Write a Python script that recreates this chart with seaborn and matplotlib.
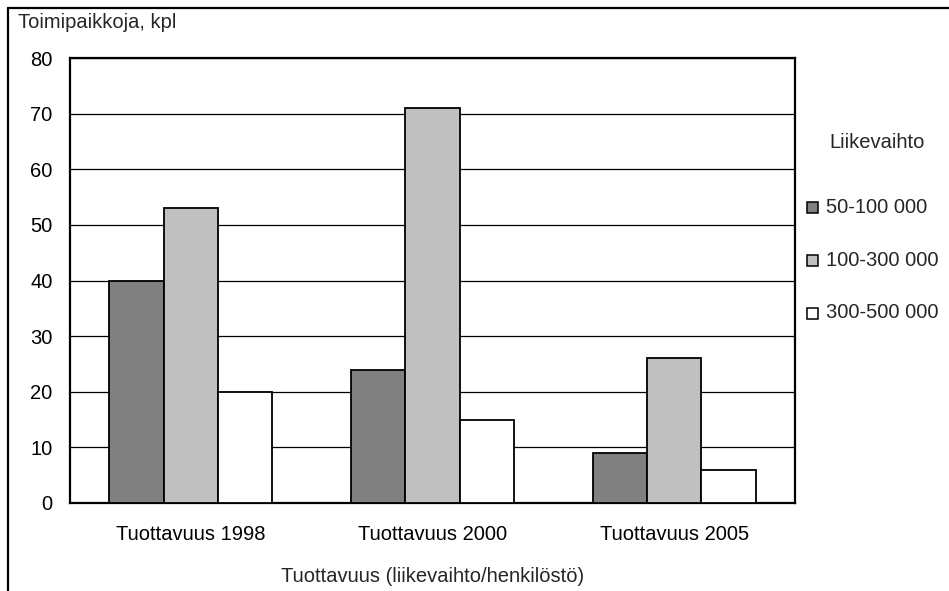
import matplotlib
matplotlib.use("Agg")
import matplotlib.pyplot as plt
import seaborn as sns
import pandas as pd
from matplotlib.patches import Rectangle
from matplotlib.lines import Line2D

categories = ["Tuottavuus 1998", "Tuottavuus 2000", "Tuottavuus 2005"]
series_names = ["50-100 000", "100-300 000", "300-500 000"]
s1 = [40, 24, 9]
s2 = [53, 71, 26]
s3 = [20, 15, 6]
colors = ["#808080", "#c0c0c0", "#ffffff"]

rows = []
for name, vals in zip(series_names, [s1, s2, s3]):
    for c, v in zip(categories, vals):
        rows.append({"cat": c, "series": name, "val": v})
df = pd.DataFrame(rows)

sns.set_theme(style="white")
plt.rcParams['font.family'] = ['Liberation Sans', 'DejaVu Sans']
FS = 14.5

fig = plt.figure(figsize=(9.49, 5.91), dpi=100)
ax = fig.add_axes([70/949, 88/591, 725/949, 445/591])

sns.barplot(data=df, x="cat", y="val", hue="series", order=categories,
            hue_order=series_names, palette=colors, width=0.675,
            edgecolor="black", linewidth=1.3, saturation=1, ax=ax, legend=False, zorder=3)

ax.set_ylim(0, 80)
ax.set_xlim(-0.5, 2.5)
ax.set_yticks(range(0, 81, 10))
ax.yaxis.grid(True, color="black", linewidth=0.9, zorder=0)
ax.set_axisbelow(True)
ax.tick_params(axis="both", length=0, labelsize=FS, colors="black")
ax.tick_params(axis="y", pad=12.5)
ax.tick_params(axis="x", pad=16)
for s in ax.spines.values():
    s.set_visible(True)
    s.set_color("black")
    s.set_linewidth(1.6)
ax.set_xlabel("")
ax.set_ylabel("")

fig.text(18/949, 1 - 23/591, "Toimipaikkoja, kpl", fontsize=FS, ha="left", va="center")
fig.text(433/949, 1 - 576/591, "Tuottavuus (liikevaihto/henkilöstö)", fontsize=FS, ha="center", va="center")

# figure border (top and left)
fig.add_artist(Line2D([8/949, 1], [1 - 8/591, 1 - 8/591], transform=fig.transFigure, color="black", linewidth=1.6))
fig.add_artist(Line2D([8/949, 8/949], [0, 1 - 8/591], transform=fig.transFigure, color="black", linewidth=1.6))

# legend
fig.text(877/949, 1 - 143/591, "Liikevaihto", fontsize=FS, ha="center", va="center")
for i, (name, col) in enumerate(zip(series_names, colors)):
    y = 207 + i * 53
    fig.add_artist(Rectangle((807/949, 1 - (y + 5.5)/591), 11/949, 11/591,
                             transform=fig.transFigure, facecolor=col, edgecolor="black", linewidth=1.1))
    fig.text(826/949, 1 - y/591, name, fontsize=FS, ha="left", va="center")

fig.savefig("out.png", dpi=100)
